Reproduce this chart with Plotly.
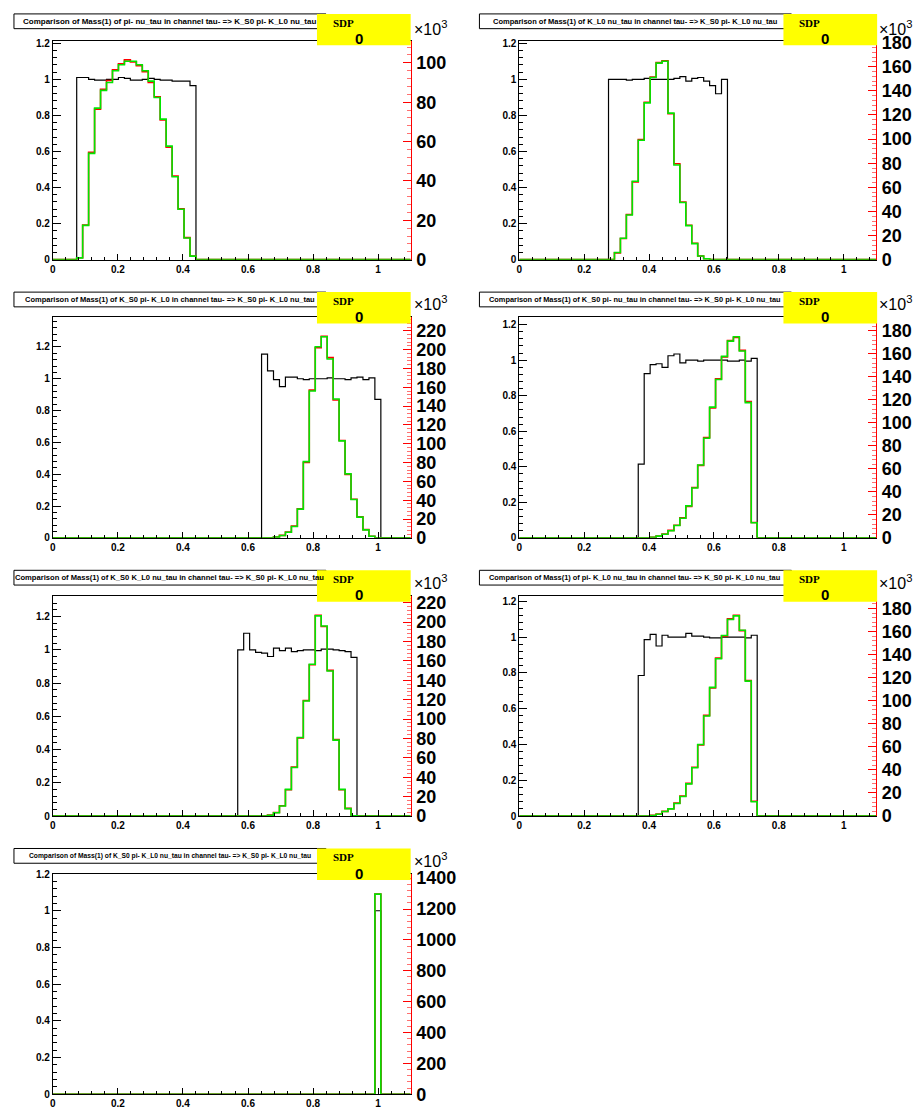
import plotly.graph_objects as go

W, H = 917, 1119
NBINS = 60
XMAX = 1.1

titles = [
    "Comparison of Mass(1) of pi- nu_tau in channel tau- => K_S0 pi- K_L0 nu_tau",
    "Comparison of Mass(1) of K_L0 nu_tau in channel tau- => K_S0 pi- K_L0 nu_tau",
    "Comparison of Mass(1) of K_S0 pi- K_L0 in channel tau- => K_S0 pi- K_L0 nu_tau",
    "Comparison of Mass(1) of K_S0 pi- nu_tau in channel tau- => K_S0 pi- K_L0 nu_tau",
    "Comparison of Mass(1) of K_S0 K_L0 nu_tau in channel tau- => K_S0 pi- K_L0 nu_tau",
    "Comparison of Mass(1) of pi- K_L0 nu_tau in channel tau- => K_S0 pi- K_L0 nu_tau",
    "Comparison of Mass(1) of K_S0 pi- K_L0 nu_tau in channel tau- => K_S0 pi- K_L0 nu_tau",
]
sdp_values = ["0", "0", "0", "0", "0", "0", "0"]

# black histogram (ratio, left axis): first non-empty bin index and contents
black_start = [4, 15, 35, 20, 31, 20, 54]
black_vals = [
    [1.01, 1.01, 1.0, 0.995, 0.995, 1.0, 1.0, 1.01, 1.005, 0.995, 0.995, 1.0, 1.005, 1.0, 0.995, 0.995, 0.99, 0.99, 0.99, 0.965],
    [1.0, 1.0, 1.0, 0.995, 1.0, 1.0, 1.005, 1.0, 1.0, 1.0, 1.0, 1.005, 1.015, 0.99, 1.005, 1.01, 0.99, 0.965, 0.92, 1.0],
    [1.155, 1.05, 0.995, 0.95, 1.01, 1.01, 1.0, 0.995, 1.0, 1.0, 1.0, 1.005, 1.0, 1.0, 0.995, 1.005, 1.01, 0.995, 1.005, 0.87],
    [0.415, 0.925, 0.975, 0.98, 0.96, 1.025, 1.035, 0.985, 1.0, 1.0, 0.995, 1.0, 1.0, 1.0, 1.0, 0.995, 0.995, 1.0, 0.995, 1.01],
    [1.0, 1.1, 1.0, 0.985, 0.98, 0.96, 1.01, 0.995, 1.01, 0.99, 0.995, 1.0, 1.0, 0.995, 1.005, 1.005, 1.0, 0.995, 0.99, 0.955],
    [0.785, 0.985, 1.015, 0.95, 1.01, 1.0, 1.0, 1.0, 1.02, 1.005, 1.005, 1.0, 0.995, 0.995, 1.0, 1.0, 1.0, 1.0, 0.995, 1.01],
    [1.0],
]

# green histogram (counts x10^3, right axis)
green_start = [4, 15, 37, 22, 36, 22, 54]
green_vals = [
    [0.9, 17.4, 54, 77, 86, 90, 96, 99, 100.8, 100.8, 99, 96, 90.7, 82.4, 71.4, 57.7, 42.1, 25.6, 11, 1.8],
    [0, 5.9, 17.8, 37, 65, 99, 130, 151, 163, 164.5, 121.5, 78.5, 47.4, 28.2, 13.3, 3, 0.7],
    [0.8, 2.5, 6, 12, 30.5, 81, 156, 203, 213.6, 190, 147.5, 103, 68, 40.7, 22, 8.5, 1.7, 0.2],
    [0.5, 1.5, 3.1, 6.2, 10.8, 17, 27.8, 43.3, 63.4, 86.6, 113.7, 137.7, 157.8, 171, 174.8, 162.4, 117.6, 13.1],
    [0.9, 3.4, 10.3, 27.5, 50, 81, 118.7, 156.5, 206.4, 196, 149.6, 78.3, 27.5, 7.7, 0.3],
    [0.5, 1.6, 3.9, 6.2, 10.9, 17, 27.9, 41.9, 62, 86.8, 111.6, 136.4, 156.6, 170.5, 173.6, 161.2, 117, 12.4],
    [1297],
]

# red histogram (counts x10^3, right axis)
red_start = [4, 15, 37, 22, 36, 22, 54]
red_vals = [
    [1.0, 17.6, 54.5, 76.5, 86.5, 91, 96.5, 99.5, 101.5, 100.5, 98.5, 95.5, 90, 82.8, 71, 57.2, 42.5, 25.8, 11.2, 1.9],
    [0, 5.6, 17.5, 37.5, 64.5, 99.5, 130.5, 151.5, 163.5, 165, 121, 79.5, 47.8, 28.5, 13.6, 3.1, 0.8],
    [0.9, 2.7, 6.3, 12.5, 31, 80, 157, 202, 214, 191.5, 146.5, 103.5, 67.5, 41, 22.5, 8.8, 1.8, 0.2],
    [0.6, 1.6, 3.3, 6.5, 11, 17.4, 27.3, 43.8, 63, 87.3, 113, 138.2, 157.3, 171.5, 174.2, 163, 118.5, 13.4],
    [1.0, 3.6, 10.6, 27.2, 50.5, 80.5, 119.2, 156, 207, 195.5, 150.2, 78.8, 27.2, 7.9, 0.3],
    [0.6, 1.7, 4.1, 6.4, 11.2, 17.3, 28.3, 42.3, 61.6, 87.3, 111, 137, 156, 171, 174.2, 160.8, 117.6, 12.8],
    [1297],
]

left_max = [1.21, 1.21, 1.39, 1.245, 1.325, 1.23, 1.2]
right_dtick = [20, 20, 20, 20, 20, 20, 200]
x_ticks = [0, 0.2, 0.4, 0.6, 0.8, 1.0]
x_ticktext = ["0", "0.2", "0.4", "0.6", "0.8", "1"]
title_sizes = [8.0, 7.5, 7.5, 7.4, 7.6, 7.4, 6.7]

# frame geometry in pixels: (left, right, top, bottom)
frames = [
    (50, 409, 33, 255), (518, 876, 33, 255),
    (50, 409, 313, 538), (518, 876, 313, 538),
    (50, 409, 597, 821), (518, 876, 597, 821),
    (50, 409, 880, 1104),
]
box_tops = [5, 5, 288, 288, 571, 571, 854]

FONT = "Liberation Sans, Arial, Helvetica, sans-serif"


def px(x):
    return x / W


def py(y):
    return 1 - y / H


def full(start, vals):
    arr = [0.0] * NBINS
    for i, v in enumerate(vals):
        arr[start + i] = v
    return arr


edges = [i * XMAX / NBINS for i in range(NBINS + 1)]

fig = go.Figure()
layout = dict(
    width=W, height=H, autosize=False,
    margin=dict(l=0, r=0, t=0, b=0),
    paper_bgcolor="white", plot_bgcolor="white",
    showlegend=False,
)
shapes = []
annotations = []

for i in range(7):
    l, r, t, b = frames[i]
    xr = "x" if i == 0 else f"x{i+1}"
    n1, n2 = 2 * i + 1, 2 * i + 2
    yl = "y" if n1 == 1 else f"y{n1}"
    yr = f"y{n2}"
    xkey = "xaxis" if i == 0 else f"xaxis{i+1}"
    ylkey = "yaxis" if n1 == 1 else f"yaxis{n1}"
    yrkey = f"yaxis{n2}"

    blk = full(black_start[i], black_vals[i])
    red = full(red_start[i], red_vals[i])
    grn = full(green_start[i], green_vals[i])

    fig.add_trace(go.Scatter(x=edges, y=blk + [blk[-1]], mode="lines",
                             line=dict(shape="hv", color="black", width=1.2),
                             xaxis=xr, yaxis=yl, hoverinfo="skip"))
    fig.add_trace(go.Scatter(x=edges, y=red + [red[-1]], mode="lines",
                             line=dict(shape="hv", color="#ff0000", width=1.6),
                             xaxis=xr, yaxis=yr, hoverinfo="skip"))
    fig.add_trace(go.Scatter(x=edges, y=grn + [grn[-1]], mode="lines",
                             line=dict(shape="hv", color="#00e600", width=1.6),
                             xaxis=xr, yaxis=yr, hoverinfo="skip"))

    layout[xkey] = dict(
        domain=[px(l), px(r)], anchor=yl, range=[0, XMAX],
        tickmode="array", tickvals=x_ticks, ticktext=x_ticktext,
        ticks="inside", ticklen=6, tickcolor="black", tickwidth=1,
        minor=dict(ticks="inside", ticklen=3, dtick=0.04, tick0=0, tickcolor="black", showgrid=False),
        showline=True, linecolor="black", linewidth=1, mirror=True,
        showgrid=False, zeroline=False,
        tickfont=dict(family=FONT, size=10, color="black", weight="bold"),
        fixedrange=True,
    )
    layout[ylkey] = dict(
        domain=[py(b), py(t)], anchor=xr, range=[0, left_max[i]],
        tick0=0, dtick=0.2,
        ticks="inside", ticklen=8, tickcolor="black", tickwidth=1,
        minor=dict(ticks="inside", ticklen=4, dtick=0.04, tick0=0, tickcolor="black", showgrid=False),
        showline=True, linecolor="black", linewidth=1,
        showgrid=False, zeroline=False,
        tickfont=dict(family=FONT, size=10, color="black", weight="bold"),
        fixedrange=True,
    )
    gmax = max(grn)
    dt = right_dtick[i]
    layout[yrkey] = dict(
        overlaying=yl, side="right", anchor=xr, range=[0, 1.1 * gmax],
        tick0=0, dtick=dt,
        ticks="inside", ticklen=8, tickcolor="#ff0000", tickwidth=1,
        minor=dict(ticks="inside", ticklen=4, dtick=dt / 5, tick0=0, tickcolor="#ff7070", showgrid=False),
        showline=True, linecolor="#ff0000", linewidth=1,
        showgrid=False, zeroline=False,
        tickfont=dict(family=FONT, size=18, color="black", weight="bold"),
        ticklabelstandoff=1,
        fixedrange=True,
    )

    bt = box_tops[i]
    tl, trr = (11, 324) if l < 300 else (478, 791)
    yl0, yl1 = (315, 409) if l < 300 else (783, 877)
    shapes.append(dict(type="rect", xref="paper", yref="paper",
                       x0=px(tl), x1=px(trr), y0=py(bt + 15), y1=py(bt),
                       line=dict(color="black", width=1), fillcolor="white", layer="above"))
    shapes.append(dict(type="rect", xref="paper", yref="paper",
                       x0=px(yl0), x1=px(yl1), y0=py(bt + 32), y1=py(bt),
                       line=dict(width=0), fillcolor="#ffff00", layer="above"))
    annotations.append(dict(xref="paper", yref="paper", x=px((tl + trr) / 2), y=py(bt + 7.5),
                            text=titles[i], showarrow=False, xanchor="center", yanchor="middle",
                            font=dict(family=FONT, size=title_sizes[i], color="black", weight="bold")))
    annotations.append(dict(xref="paper", yref="paper", x=px(yl0 + 14), y=py(bt + 9),
                            text="SDP", showarrow=False, xanchor="left", yanchor="middle",
                            font=dict(family="Liberation Serif, Times New Roman, serif", size=11,
                                      color="black", weight="bold")))
    annotations.append(dict(xref="paper", yref="paper", x=px(yl0 + 42), y=py(bt + 25),
                            text=sdp_values[i], showarrow=False, xanchor="center", yanchor="middle",
                            font=dict(family=FONT, size=15, color="black", weight="bold")))
    annotations.append(dict(xref="paper", yref="paper", x=px(r + 1), y=py(t - 14),
                            text="\u00d710<sup>3</sup>", showarrow=False, xanchor="left", yanchor="middle",
                            font=dict(family=FONT, size=16, color="black")))

layout["shapes"] = shapes
layout["annotations"] = annotations
fig.update_layout(**layout)
fig.write_html(
    "out.html",
    config={"displayModeBar": False},
    post_script="document.body.style.margin='0';document.body.style.overflow='hidden';",
)
